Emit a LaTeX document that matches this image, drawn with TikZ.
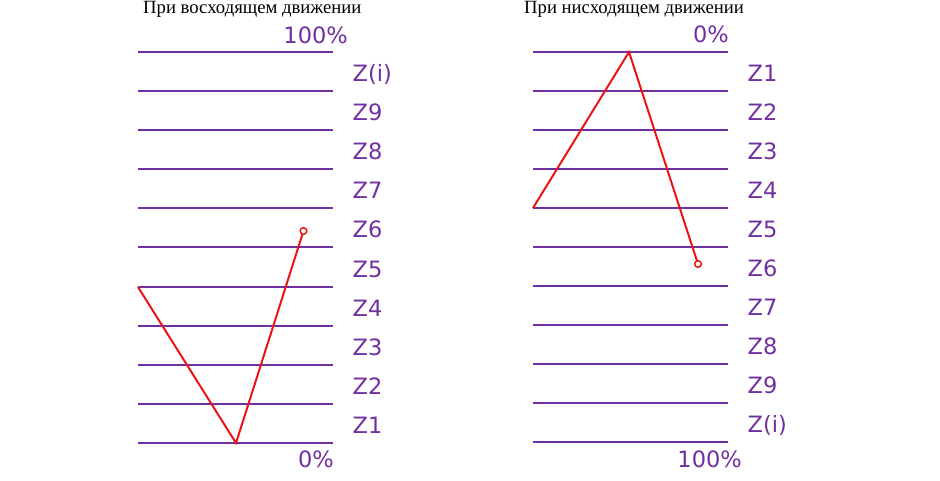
\documentclass[tikz,border=0pt]{standalone}
\usepackage{fontspec}
\setmainfont{Liberation Serif}
\newfontfamily\lblfont{DejaVu Sans}
\definecolor{zpurple}{RGB}{112,48,160}
\definecolor{zred}{RGB}{235,20,20}
\begin{document}
\begin{tikzpicture}[x=1pt,y=-1pt,
  level/.style={draw=zpurple,line width=2pt},
  zlabel/.style={anchor=base west,inner sep=0pt,text=zpurple,font=\lblfont\fontsize{22.5}{24}\selectfont},
  pct/.style={anchor=base east,inner sep=0pt,text=zpurple,font=\lblfont\fontsize{22.5}{24}\selectfont},
  title/.style={anchor=north west,inner sep=0pt,font=\fontsize{18.7}{21}\selectfont},
  trace/.style={draw=zred,line width=2pt,line join=miter},
  endmark/.style={draw=zred,line width=1.5pt,fill=white}]
\useasboundingbox (0,0) rectangle (940,480);
% titles
\node[title] (tl) at (143,1) {При восходящем движении};
\node[title] (tr) at (524,1) {При нисходящем движении};
% level lines
\foreach \y in {52,91,130,169,208,247,287,326,365,404,443}{
  \draw[level] (138,\y) -- (333,\y);
}
\foreach \y in {52,91,130,169,208,247,286,325,364,403,442}{
  \draw[level] (533,\y) -- (728,\y);
}
% left labels
\foreach \t [count=\i from 0] in {Z(i),Z9,Z8,Z7,Z6,Z5,Z4,Z3,Z2,Z1}{
  \node[zlabel] (lz\i) at (352.5,{52+39.1*\i+19.5+10}) {\t};
}
\foreach \t [count=\i from 0] in {Z1,Z2,Z3,Z4,Z5,Z6,Z7,Z8,Z9,Z(i)}{
  \node[zlabel] (rz\i) at (747.5,{52+39*\i+19.5+9.5}) {\t};
}
\node[pct] (l100) at (348,43) {100\%};
\node[pct] (l0) at (334,467) {0\%};
\node[pct] (r0) at (729,42) {0\%};
\node[pct] (r100) at (742,467) {100\%};
% left trace
\coordinate (la) at (138,287);
\coordinate (lb) at (236,443);
\coordinate (lc) at (303.5,231);
\draw[trace] (la) -- (lb) -- (lc);
\draw[endmark] (lc) circle (3.3);
% right trace
\coordinate (ra) at (533,208);
\coordinate (rb) at (629,52);
\coordinate (rc) at (698,264);
\draw[trace] (ra) -- (rb) -- (rc);
\draw[endmark] (rc) circle (3.3);
\end{tikzpicture}
\end{document}
